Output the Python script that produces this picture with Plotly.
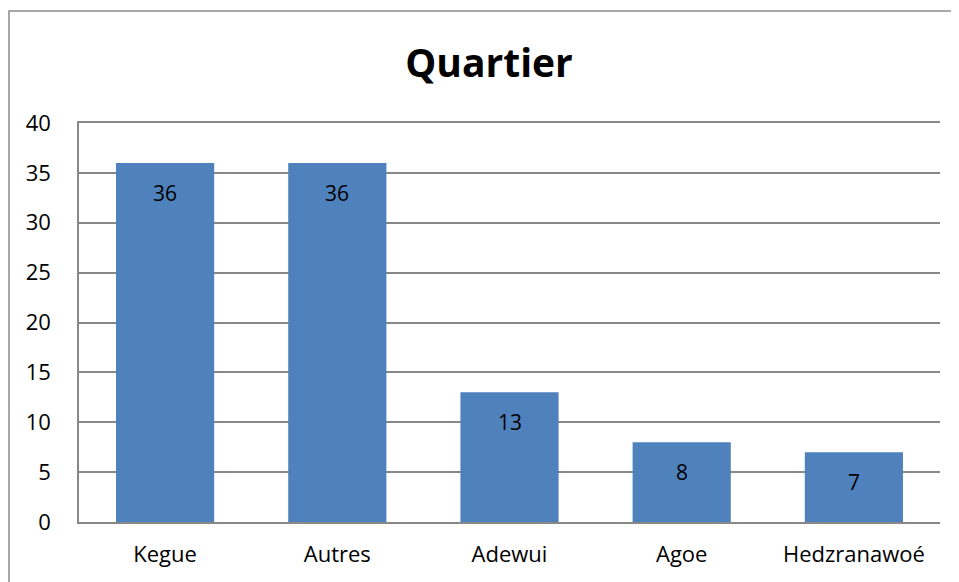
import plotly.graph_objects as go

categories = ["Kegue", "Autres", "Adewui", "Agoe", "Hedzranawoé"]
values = [36, 36, 13, 8, 7]

FONT = "Open Sans, sans-serif"
BAR_COLOR = "#4F81BD"
GRID = "#888888"

fig = go.Figure(go.Bar(
    x=categories,
    y=values,
    marker_color=BAR_COLOR,
    marker_line_width=0,
))

# étiquettes de valeur à l'intérieur, près du haut des barres
for cat, val in zip(categories, values):
    fig.add_annotation(
        x=cat, y=val, text=str(val), showarrow=False,
        yanchor="middle", yshift=-30,
        font=dict(family=FONT, size=21, color="black"),
    )

# cadre extérieur du graphique (dépasse à droite et en bas)
fig.add_shape(
    type="rect", xref="paper", yref="paper",
    x0=-0.0813, x1=1.2, y0=-0.3, y1=1.2807,
    line=dict(color="#8c8c8c", width=1.5),
)

fig.update_layout(
    width=959, height=582,
    margin=dict(l=71, r=27, t=115, b=68),
    paper_bgcolor="white",
    plot_bgcolor="white",
    bargap=0.43,
    showlegend=False,
    title=dict(
        text="<b>Quartier</b>",
        x=0.5016, xanchor="center",
        y=0.905, yanchor="middle",
        font=dict(family=FONT, size=39, color="black"),
    ),
    xaxis=dict(
        showgrid=False,
        showline=True, mirror=True, linecolor=GRID, linewidth=1.5,
        ticks="", ticklabelstandoff=12,
        tickfont=dict(family=FONT, size=22, color="black"),
    ),
    yaxis=dict(
        range=[0, 40], dtick=5,
        showgrid=True, gridcolor=GRID, gridwidth=1.5,
        showline=True, linecolor=GRID, linewidth=1.5,
        zeroline=False,
        ticks="", ticklabelstandoff=22,
        tickfont=dict(family=FONT, size=22, color="black"),
    ),
)

fig.write_html("out.html")
